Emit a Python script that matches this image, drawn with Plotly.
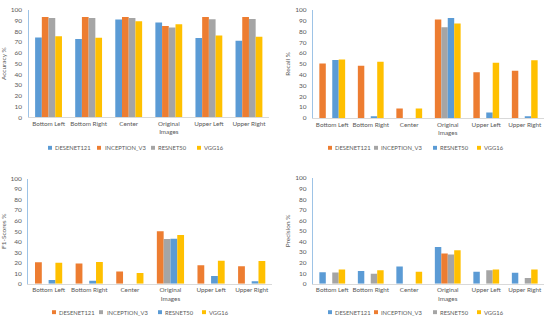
import plotly.graph_objects as go

categories = ["Bottom Left", "Bottom Right", "Center", "Original<br>Images", "Upper Left", "Upper Right"]
models = ["DESENET121", "INCEPTION_V3", "RESNET50", "VGG16"]
tick_values = [0, 10, 20, 30, 40, 50, 60, 70, 80, 90, 100]

accuracy_desenet121 = [74.4, 72.9, 91.0, 88.3, 73.8, 71.4]
accuracy_inception_v3 = [93.4, 93.4, 93.4, 85.0, 93.4, 93.4]
accuracy_resnet50 = [92.5, 92.5, 92.5, 83.7, 91.3, 91.6]
accuracy_vgg16 = [75.6, 74.1, 89.5, 86.7, 76.2, 75.0]

recall_desenet121 = [50.3, 48.2, 8.7, 91.0, 42.2, 43.7]
recall_inception_v3 = [0, 0, 0, 84.0, 0, 0]
recall_resnet50 = [53.6, 1.5, 0, 92.5, 5.1, 1.5]
recall_vgg16 = [54.2, 52.1, 8.7, 87.3, 51.2, 53.3]

f1_desenet121 = [20.5, 19.3, 11.8, 50.0, 17.7, 16.8]
f1_inception_v3 = [0, 0, 0, 42.5, 0, 0]
f1_resnet50 = [3.7, 2.8, 0, 42.9, 7.5, 2.5]
f1_vgg16 = [19.9, 20.8, 10.2, 46.3, 22.0, 21.7]

precision_desenet121 = [11.0, 12.0, 16.3, 34.8, 11.4, 10.5]
precision_inception_v3 = [0, 0, 0, 28.6, 0, 0]
precision_resnet50 = [10.8, 9.5, 0, 27.7, 12.9, 5.5]
precision_vgg16 = [13.5, 12.9, 11.4, 31.7, 13.5, 13.5]

BLUE, ORANGE, GRAY, YELLOW = "#5B9BD5", "#ED7D31", "#A5A5A5", "#FFC000"

W, H = 550, 323
FONT = "Lato, 'Open Sans', sans-serif"
TXT = "#595959"

panels = [
    dict(title="Accuracy %", series=[accuracy_desenet121, accuracy_inception_v3, accuracy_resnet50, accuracy_vgg16],
         colors=[BLUE, ORANGE, GRAY, YELLOW], x=(28.5, 269), y=(116, 6),
         leg_y=147, sq_x=[48, 97, 151, 197], tx_x=[53, 103, 156, 202]),
    dict(title="Recall %", series=[recall_desenet121, recall_inception_v3, recall_resnet50, recall_vgg16],
         colors=[ORANGE, GRAY, BLUE, YELLOW], x=(313, 544), y=(116.5, 6),
         leg_y=147, sq_x=[328, 374, 433, 477], tx_x=[333, 379, 438, 482]),
    dict(title="F1-Scores %", series=[f1_desenet121, f1_inception_v3, f1_resnet50, f1_vgg16],
         colors=[ORANGE, GRAY, BLUE, YELLOW], x=(28.3, 272), y=(286, 178.5),
         leg_y=315, sq_x=[52, 99, 158, 202], tx_x=[57, 105, 163, 207]),
    dict(title="Precision %", series=[precision_desenet121, precision_inception_v3, precision_resnet50, precision_vgg16],
         colors=[BLUE, ORANGE, GRAY, YELLOW], x=(313, 544), y=(286, 178),
         leg_y=315, sq_x=[328, 374, 433, 477], tx_x=[333, 379, 438, 482]),
]

fig = go.Figure()
annotations = []
shapes = []
for i, p in enumerate(panels):
    n = "" if i == 0 else str(i + 1)
    xa, ya = "x" + n, "y" + n
    for name, vals, col in zip(models, p["series"], p["colors"]):
        fig.add_trace(go.Bar(x=categories, y=vals, name=name, marker=dict(color=col, line=dict(width=0)),
                             xaxis=xa, yaxis=ya, showlegend=False))
    fig.layout["xaxis" + n] = dict(
        domain=[p["x"][0] / W, p["x"][1] / W], anchor=ya, showgrid=False, zeroline=False,
        showline=True, linecolor="#D9D9D9", linewidth=1,
        tickfont=dict(family=FONT, size=6.3, color=TXT), ticks="",
        tickangle=0, fixedrange=True)
    fig.layout["yaxis" + n] = dict(
        domain=[1 - p["y"][0] / H, 1 - p["y"][1] / H], anchor=xa, range=[0, 100], tickvals=tick_values,
        showgrid=False, zeroline=False, showline=True, linecolor="#9DC3E6", linewidth=1.2,
        tickfont=dict(family=FONT, size=6.5, color=TXT), ticks="outside", ticklen=4, tickcolor="rgba(0,0,0,0)",
        title=dict(text=p["title"], font=dict(family=FONT, size=6.5, color=TXT), standoff=4), fixedrange=True)
    cy = p["leg_y"]
    for name, col, sx, tx in zip(models, p["colors"], p["sq_x"], p["tx_x"]):
        shapes.append(dict(type="rect", xref="paper", yref="paper",
                           x0=sx / W, x1=(sx + 4) / W, y0=1 - (cy + 2) / H, y1=1 - (cy - 2) / H,
                           fillcolor=col, line=dict(width=0)))
        annotations.append(dict(
            xref="paper", yref="paper", x=tx / W, y=1 - cy / H, xanchor="left", yanchor="middle",
            showarrow=False, text=name, font=dict(family=FONT, size=5.8, color=TXT)))

fig.update_layout(
    width=W, height=H, margin=dict(l=0, r=0, t=0, b=0),
    paper_bgcolor="white", plot_bgcolor="white",
    barmode="group", bargap=0.33, bargroupgap=0,
    annotations=annotations, shapes=shapes, showlegend=False)

fig.write_html("out.html", config={"displayModeBar": False},
               post_script="document.body.style.margin='0';document.body.style.overflow='hidden';")
